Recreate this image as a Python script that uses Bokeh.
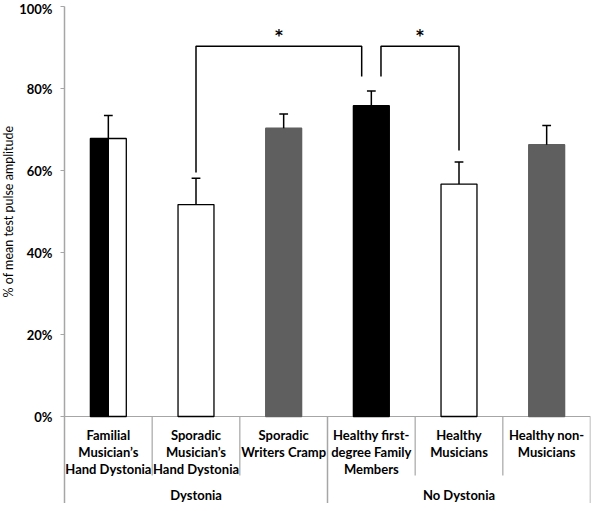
import math
from bokeh.plotting import figure
from bokeh.layouts import row
from bokeh.models import FixedTicker, PrintfTickFormatter, Range1d
from bokeh.embed import file_html
from bokeh.resources import INLINE
from bokeh.core.properties import value

# ---------------- data ----------------
categories = [
    "Familial\nMusician’s\nHand Dystonia",
    "Sporadic\nMusician’s\nHand Dystonia",
    "Sporadic\nWriters Cramp",
    "Healthy first-\ndegree Family\nMembers",
    "Healthy\nMusicians",
    "Healthy non-\nMusicians",
]
groups = ["Dystonia", "No Dystonia"]
group_sizes = [3, 3]
means = [67.8, 51.7, 70.3, 75.8, 56.7, 66.3]
errors = [5.6, 6.4, 3.5, 3.6, 5.4, 4.7]
bar_fills = [["black", "white"], ["white"], ["#5f5f5f"], ["black"], ["white"], ["#5f5f5f"]]
y_ticks = [0, 20, 40, 60, 80, 100]
y_label = "% of mean test pulse amplitude"
# significance brackets: (from category, to category, left foot, top, right foot)
brackets = [(1, 3, 59.5, 90.3, 82.9), (3, 4, 82.9, 90.3, 64.9)]
star_text = ["*", "*"]

# ---------------- layout ----------------
LW = 16            # width of the strip holding the y-axis title
W, H = 592 - LW, 503
LEFT, RIGHT, TOP = 64 - LW, 2, 6
PLOT_H = 410  # px from 100 to 0
PX = PLOT_H / 100.0
ZERO_PX = TOP + PLOT_H
y_bottom = -(H - ZERO_PX) / PX
n = len(categories)

FONT = "Lato"
GRAY_AX = "#a6a6a6"

yr = Range1d(y_bottom, 100)
p = figure(width=W, height=H, output_backend="svg", toolbar_location=None,
           x_range=Range1d(0, n), y_range=yr,
           x_axis_location=None, min_border_left=LEFT, min_border_right=RIGHT,
           min_border_top=TOP, min_border_bottom=0)
p.outline_line_color = None
p.grid.visible = False
p.background_fill_color = "white"

ax = p.yaxis[0]
ax.ticker = FixedTicker(ticks=y_ticks)
ax.formatter = PrintfTickFormatter(format="%d%%")
ax.axis_line_color = GRAY_AX
ax.axis_line_width = 1.5
ax.major_tick_line_color = GRAY_AX
ax.major_tick_out = 4
ax.major_tick_in = 0
ax.minor_tick_line_color = None
ax.major_label_standoff = 8
ax.major_label_text_font = FONT
ax.major_label_text_font_style = "bold"
ax.major_label_text_font_size = "13px"
ax.major_label_text_color = "black"

# zero line
p.segment(x0=[0], y0=[0], x1=[n], y1=[0], line_color=GRAY_AX, line_width=1.2)

# bars
bw = 0.41
for i, (m, fills) in enumerate(zip(means, bar_fills)):
    k = len(fills)
    sub = bw / k
    for j, f in enumerate(fills):
        cx = i + 0.5 - bw / 2 + sub * (j + 0.5)
        lc = "black" if f in ("white", "black") else f
        p.vbar(x=[cx], width=sub, top=[m], bottom=0, fill_color=f,
               line_color=lc, line_width=1.3)

# error bars (upward only)
xs = [i + 0.5 for i in range(n)]
tops = [m + e for m, e in zip(means, errors)]
cap = 0.05
p.segment(x0=xs, y0=means, x1=xs, y1=tops, line_color="black", line_width=1.5)
p.segment(x0=[x - cap for x in xs], y0=tops, x1=[x + cap for x in xs], y1=tops,
          line_color="black", line_width=1.5)

# brackets
off = 0.11
for (a, b, yl, yt, yr_), s in zip(brackets, star_text):
    xa = a + 0.5 + (off if a == 3 else 0)
    xb = b + 0.5 - (off if b == 3 else 0)
    p.line(x=[xa, xa, xb, xb], y=[yl, yt, yt, yr_], line_color="black", line_width=1.5)
    p.text(x=[(xa + xb) / 2], y=[yt + 10 / PX], text=[s], text_font=value("DejaVu Sans"),
           text_font_style="bold", text_font_size="15px", text_align="center",
           text_baseline="middle", text_color="black")

# category labels
line_y0 = -18.8 / PX
line_step = 16.8 / PX
for i, c in enumerate(categories):
    for li, t in enumerate(c.split("\n")):
        p.text(x=[i + 0.5], y=[line_y0 - li * line_step], text=[t],
               text_font=value(FONT), text_font_style="bold",
               text_font_size="13px", text_align="center",
               text_baseline="middle", text_color="black")

# separators
sep_bottom = -59 / PX
bounds = [0]
for g in group_sizes:
    bounds.append(bounds[-1] + g)
inner = [i for i in range(1, n) if i not in bounds]
p.segment(x0=inner, y0=[0] * len(inner), x1=inner, y1=[sep_bottom] * len(inner),
          line_color=GRAY_AX, line_width=1.2)
outer = bounds[1:]
p.segment(x0=outer, y0=[0] * len(outer), x1=outer, y1=[y_bottom] * len(outer),
          line_color=GRAY_AX, line_width=1.5)

# group labels
group_y = -78.5 / PX
for gi, g in enumerate(groups):
    p.text(x=[(bounds[gi] + bounds[gi + 1]) / 2], y=[group_y], text=[g],
           text_font=value(FONT), text_font_style="bold", text_font_size="13px",
           text_align="center", text_baseline="middle", text_color="black")

# y-axis title strip
lf = figure(width=LW, height=H, output_backend="svg", toolbar_location=None,
            x_range=Range1d(0, 1), y_range=yr, x_axis_location=None,
            y_axis_location=None, min_border_left=0, min_border_right=0,
            min_border_top=TOP, min_border_bottom=0)
lf.outline_line_color = None
lf.grid.visible = False
lf.text(x=[0.5], y=[50], text=[y_label], angle=math.pi / 2,
        text_font=value(FONT), text_font_size="12.5px", text_align="center",
        text_baseline="middle", text_color="black")

layout = row(lf, p, spacing=0)
open("out.html", "w").write(file_html(layout, INLINE))
